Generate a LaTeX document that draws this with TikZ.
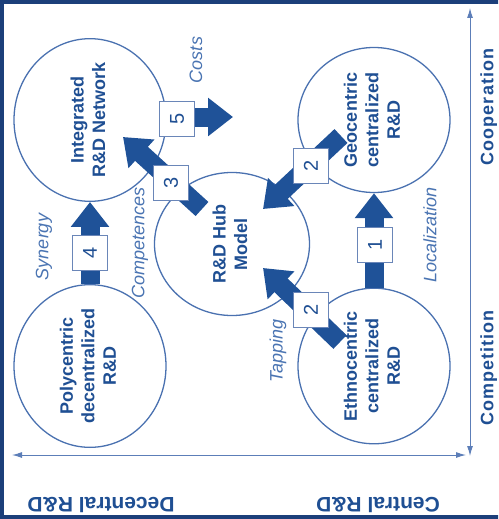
\documentclass[tikz,border=0pt]{standalone}
\usepackage{fontspec}
\setmainfont{Liberation Sans}
\usepackage{tikz}
\usetikzlibrary{arrows.meta,shapes.geometric}

\definecolor{framebl}{HTML}{1C3F7A}
\definecolor{arrowbl}{HTML}{1F5298}
\definecolor{ringbl}{HTML}{4A71B0}
\definecolor{textbl}{HTML}{1F4F93}
\definecolor{notebl}{HTML}{4A74B2}
\definecolor{axisbl}{HTML}{5C7EB8}
\definecolor{boxbl}{HTML}{6A86B8}

\newcommand{\vlab}[1]{\rotatebox{90}{\begin{tabular}{@{}c@{}}#1\end{tabular}}}

\begin{document}
\begin{tikzpicture}[x=1pt,y=-1pt,
    ring/.style={ellipse,draw=ringbl,line width=1.3pt,minimum width=152pt,minimum height=145pt,
      inner sep=0pt,text=textbl,font=\fontsize{18}{21.5}\selectfont\bfseries},
    flow/.style={arrowbl,line width=19pt,-{Triangle[length=25pt,width=37pt]}},
    numbox/.style={draw=boxbl,fill=white,line width=1pt,minimum width=35pt,minimum height=35pt,
      inner sep=0pt,rotate=90,text=textbl,font=\fontsize{20}{20}\selectfont},
    note/.style={rotate=90,inner sep=0pt,text=notebl,font=\fontsize{18}{18}\selectfont\itshape},
    axislabel/.style={inner sep=0pt,text=textbl,font=\fontsize{21}{21}\selectfont\bfseries},
    sidelabel/.style={rotate=90,anchor=north,inner sep=0pt,text=textbl,
      font=\fontsize{18}{18}\selectfont\bfseries\addfontfeature{LetterSpace=6}},
    axis/.style={axisbl,line width=1pt,{Latex[length=10pt,width=6pt]}-{Latex[length=10pt,width=6pt]}}]

  \path[use as bounding box] (0,0) rectangle (498,519);
  \clip (0,0) rectangle (498,519);
  \draw[framebl,line width=4pt] (2,2) rectangle (520,517);

  % the five strategies
  \node[ring] (integ) at (90,120) {\vlab{Integrated\\R\&D Network}};
  \node[ring] (geo) at (374,120) {\vlab{Geocentric\\centralized\\R\&D}};
  \node[ring,minimum width=155pt,minimum height=143pt] (hub) at (232,244) {\vlab{R\&D Hub\\Model}};
  \node[ring] (poly) at (90,366) {\vlab{Polycentric\\decentralized\\R\&D}};
  \node[ring] (ethno) at (374,366) {\vlab{Ethnocentric\\centralized\\R\&D}};

  % arrow ends
  \coordinate (geo2) at (341,136);
  \coordinate (hubtop) at (263,209);
  \coordinate (ethno2) at (340,342);
  \coordinate (hubbot) at (263,268);
  \coordinate (hub3) at (202,209);
  \coordinate (integ3) at (123,137);
  \coordinate (integ5) at (160,117);
  \coordinate (cost5) at (233,117);

  \draw[flow] (poly.north) -- (integ.south);
  \draw[flow] (ethno.north) -- (geo.south);
  \draw[flow] (geo2) -- (hubtop);
  \draw[flow] (ethno2) -- (hubbot);
  \draw[flow] (hub3) -- (integ3);
  \draw[flow] (integ5) -- (cost5);

  \node[numbox] (n1) at (375,245) {1};
  \node[numbox] (n2a) at (311,166) {2};
  \node[numbox] (n2b) at (311,310) {2};
  \node[numbox] (n3) at (171,183) {3};
  \node[numbox] (n4) at (90,253) {4};
  \node[numbox] (n5) at (177,119) {5};

  \node[note] (costs) at (196,60) {Costs};
  \node[note] (synergy) at (44,247) {Synergy};
  \node[note] (compet) at (140,243) {Competences};
  \node[note] (local) at (430,235) {Localization};
  \node[note] (tapping) at (278,351) {Tapping};

  % axes
  \coordinate (xl) at (12,455);
  \coordinate (xr) at (466,455);
  \coordinate (yt) at (470,8);
  \coordinate (yb) at (470,456);
  \draw[axis] (xl) -- (xr);
  \draw[axis] (yb) -- (yt);

  \node[axislabel,rotate=180] (decen) at (101,505) {Decentral R\&D};
  \node[axislabel,rotate=180] (cen) at (378,505) {Central R\&D};
  \node[sidelabel] (coop) at (480,107) {Cooperation};
  \node[sidelabel] (comp) at (480,368) {Competition};
\end{tikzpicture}
\end{document}
